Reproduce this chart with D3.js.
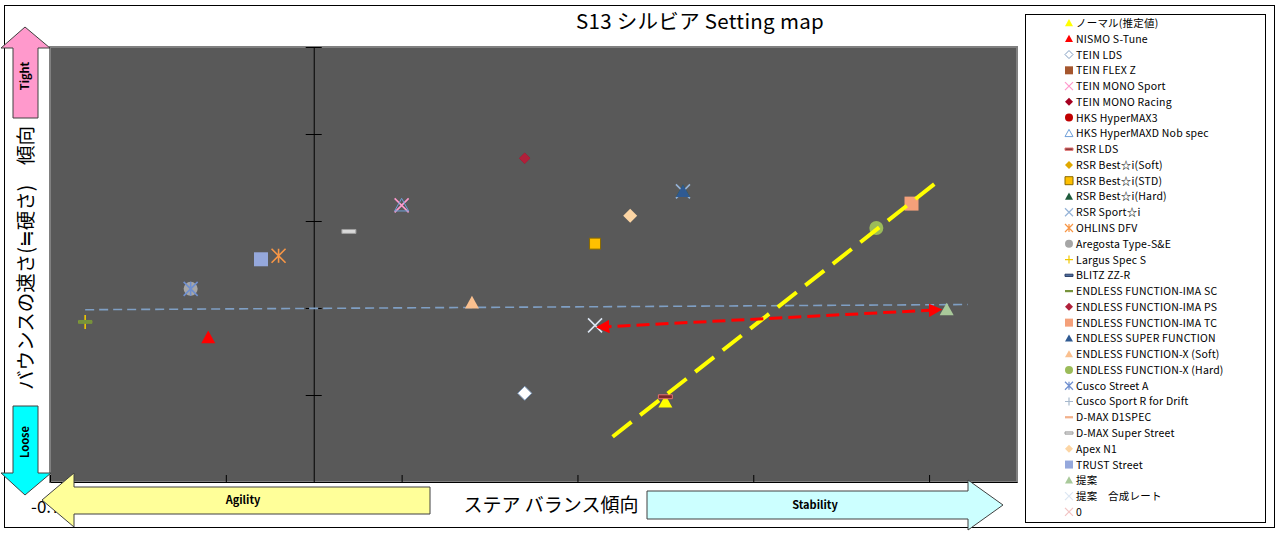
<!DOCTYPE html>
<html>
<head>
<meta charset="utf-8">
<script src="https://cdn.jsdelivr.net/npm/d3@7"></script>
<style>
body { margin: 0; background: #fff; }
text { font-family: "Noto Sans CJK JP", "Noto Sans", sans-serif; }
</style>
</head>
<body>
<script>
// series (one point each, null = not plotted)
var seriesNames = ["ノーマル(推定値)", "NISMO S-Tune", "TEIN LDS", "TEIN FLEX Z", "TEIN  MONO Sport",
  "TEIN  MONO Racing", "HKS  HyperMAX3", "HKS  HyperMAXD Nob spec", "RSR LDS", "RSR  Best☆i(Soft)",
  "RSR  Best☆i(STD)", "RSR  Best☆i(Hard)", "RSR  Sport☆i", "OHLINS DFV", "Aregosta  Type-S&E",
  "Largus Spec S", "BLITZ ZZ-R", "ENDLESS FUNCTION-IMA SC", "ENDLESS FUNCTION-IMA PS",
  "ENDLESS FUNCTION-IMA TC", "ENDLESS SUPER FUNCTION", "ENDLESS FUNCTION-X (Soft)",
  "ENDLESS FUNCTION-X (Hard)", "Cusco Street A", "Cusco Sport R for Drift", "D-MAX D1SPEC",
  "D-MAX Super Street", "Apex N1", "TRUST  Street", "提案", "提案　合成レート", "0"];
var seriesX = [1.00, -0.30, 0.60, null, 0.25, 0.60, null, 0.25, 1.00, null,
  0.80, 1.05, 1.05, -0.10, -0.35, -0.65, null, -0.65, 0.60, 1.70,
  1.05, 0.45, 1.60, -0.35, null, null, 0.10, 0.90, -0.15, 1.80, 0.80, null];
var seriesY = [-0.54, -0.17, -0.49, null, 0.59, 0.86, null, 0.59, -0.51, null,
  0.37, 0.67, 0.67, 0.30, 0.11, -0.08, null, -0.08, 0.86, 0.60,
  0.67, 0.03, 0.46, 0.11, null, null, 0.44, 0.53, 0.28, -0.01, -0.10, null];

// guide lines
var trendX = [0.85, 1.77], trendY = [-0.74, 0.72];
var shiftX = [0.81, 1.78], shiftY = [-0.11, -0.01];
var baseX = [-0.65, 1.86], baseY = [-0.01, 0.02];

var xTicks = [-0.75, -0.25, 0.25, 0.75, 1.25, 1.75];
var xTickLabels = ["-0.75", "-0.25", "0.25", "", "1.25", "1.75"]; // 0.75 sits under the axis title
var yTicks = [-1, -0.5, 0, 0.5, 1, 1.5];

var chartTitle = "S13 シルビア Setting map";
var xTitle = "ステア バランス傾向";
var yTitle = "バウンスの速さ(≒硬さ)　傾向";

// marker style per series: shape, fill, stroke
var styles = [
  ["tri", "#ffff00", null], ["tri", "#ff0000", null], ["dia", "#ffffff", "#7f9cc0"], ["sq", "#a5562e", null],
  ["x", null, "#ff99cc"], ["dia", "#a50021", null], ["circ", "#c00000", null], ["tri", "none", "#6f9fd8"],
  ["dash", "#7a2a2a", "#e07070"], ["dia", "#e0a800", null], ["sq", "#ffc000", "#8a6a00"], ["tri", "#1e5b3c", null],
  ["x", null, "#95b3d7"], ["ast", null, "#f79646"], ["circ", "#a6a6a6", null], ["plus", null, "#f0c800"],
  ["dash", "#4f6fa0", "#2a3f66"], ["dash", "#77933c", null], ["dia", "#b0203a", null], ["sq", "#f4a07a", null],
  ["tri", "#2f5a92", null], ["tri", "#fac08f", null], ["circ", "#9bbb59", null], ["ast", null, "#6f8fcf"],
  ["plus", null, "#a6b8cc"], ["dash", "#f2b08a", null], ["dash", "#d9d9d9", "#a0a0a0"], ["dia", "#fcd5a4", null],
  ["sq", "#95a8dc", null], ["tri", "#a9c99a", null], ["x", null, "#dce6f2"], ["x", null, "#f2c4c4"]
];

function markerPath(shape, s) {
  if (shape == "tri") return "M0," + (-s) + "L" + s + "," + (s * 0.8) + "L" + (-s) + "," + (s * 0.8) + "Z";
  if (shape == "dia") return "M0," + (-s) + "L" + s + ",0L0," + s + "L" + (-s) + ",0Z";
  if (shape == "sq") return "M" + (-s) + "," + (-s) + "h" + (2 * s) + "v" + (2 * s) + "h" + (-2 * s) + "Z";
  if (shape == "circ") return d3.arc()({innerRadius: 0, outerRadius: s, startAngle: 0, endAngle: 2 * Math.PI});
  if (shape == "x") return "M" + (-s) + "," + (-s) + "L" + s + "," + s + "M" + s + "," + (-s) + "L" + (-s) + "," + s;
  if (shape == "ast") return "M" + (-s) + "," + (-s) + "L" + s + "," + s + "M" + s + "," + (-s) + "L" + (-s) + "," + s + "M0," + (-s) + "V" + s;
  if (shape == "plus") return "M" + (-s) + ",0H" + s + "M0," + (-s) + "V" + s;
  if (shape == "dash") return "M" + (-s) + "," + (-s * 0.28) + "h" + (2 * s) + "v" + (s * 0.56) + "h" + (-2 * s) + "Z";
}

function drawMarker(g, i, s) {
  var st = styles[i];
  var p = g.append("path").attr("d", markerPath(st[0], s));
  if (st[0] == "x" || st[0] == "ast" || st[0] == "plus") {
    p.attr("fill", "none").attr("stroke", st[2]).attr("stroke-width", s > 5 ? 1.6 : 1.2);
  } else {
    p.attr("fill", st[1]);
    if (st[2]) p.attr("stroke", st[2]).attr("stroke-width", 1);
  }
}

var W = 1279, H = 533;
var svg = d3.select("body").append("svg").attr("width", W).attr("height", H);

var x = d3.scaleLinear().domain([-0.75, 2.0]).range([50, 1017]);
var y = d3.scaleLinear().domain([-1, 1.5]).range([482, 47]);

// outer frame
svg.append("rect").attr("x", 4.5).attr("y", 5.5).attr("width", 1270).attr("height", 522)
  .attr("fill", "#fff").attr("stroke", "#000");

// plot area
svg.append("rect").attr("x", 50).attr("y", 47).attr("width", 967).attr("height", 435)
  .attr("fill", "#595959").attr("stroke", "#808080").attr("stroke-width", 2);

// title
svg.append("text").attr("x", 700).attr("y", 29).attr("text-anchor", "middle")
  .attr("font-size", 20.5).attr("letter-spacing", 0.3).attr("fill", "#000").text(chartTitle);

// x axis
var xAxis = svg.append("g").attr("transform", "translate(0,482)")
  .call(d3.axisBottom(x).tickValues(xTicks).tickSizeInner(-7).tickSizeOuter(0).tickPadding(19)
    .tickFormat(function(d, i) { return xTickLabels[i]; }));
xAxis.select(".domain").attr("stroke", "#000");
xAxis.selectAll("line").attr("stroke", "#000");
xAxis.selectAll("text").attr("font-size", 17).attr("fill", "#000").attr("font-family", "Noto Sans CJK JP");

// y axis with cross ticks
var yAxis = svg.append("g").attr("transform", "translate(" + x(0) + ",0)")
  .call(d3.axisLeft(y).tickValues(yTicks).tickSize(8).tickSizeOuter(0).tickFormat(""));
yAxis.select(".domain").attr("stroke", "#000");
yAxis.selectAll(".tick line").attr("x1", 8).attr("stroke", "#000");

var line = d3.line().x(function(d) { return x(d[0]); }).y(function(d) { return y(d[1]); });

// light dashed base line
svg.append("path").datum(d3.zip(baseX, baseY)).attr("d", line)
  .attr("fill", "none").attr("stroke", "#7f9fc4").attr("stroke-width", 1.6).attr("stroke-dasharray", "9,5");

// points
seriesNames.forEach(function(n, i) {
  if (seriesX[i] == null) return;
  var g = svg.append("g").attr("transform", "translate(" + x(seriesX[i]) + "," + y(seriesY[i]) + ")");
  var s = 7;
  if (i == 10 || i == 5 || i == 18) s = 5.5;
  drawMarker(g, i, s);
});

// yellow trend line
svg.append("path").datum(d3.zip(trendX, trendY)).attr("d", line)
  .attr("fill", "none").attr("stroke", "#ffff00").attr("stroke-width", 4).attr("stroke-dasharray", "24,11");

// red double arrow
var defs = svg.append("defs");
defs.append("marker").attr("id", "ah").attr("viewBox", "0 0 10 10").attr("refX", 8).attr("refY", 5)
  .attr("markerWidth", 4.5).attr("markerHeight", 4.5).attr("orient", "auto-start-reverse")
  .append("path").attr("d", "M0,0L10,5L0,10Z").attr("fill", "#ff0000");
svg.append("path").datum(d3.zip(shiftX, shiftY)).attr("d", line)
  .attr("fill", "none").attr("stroke", "#ff0000").attr("stroke-width", 3).attr("stroke-dasharray", "13,6")
  .attr("marker-start", "url(#ah)").attr("marker-end", "url(#ah)");

// axis titles
svg.append("rect").attr("x", 458).attr("y", 490).attr("width", 186).attr("height", 30).attr("fill", "#fff");
svg.append("text").attr("x", 551).attr("y", 512).attr("text-anchor", "middle")
  .attr("font-size", 19).attr("fill", "#000").text(xTitle);
svg.append("text").attr("transform", "translate(33,258) rotate(-90)").attr("text-anchor", "middle")
  .attr("font-size", 19.5).attr("fill", "#000").text(yTitle);

// direction arrows
function arrow(pts, fill, label, lx, ly, rot) {
  svg.append("polygon").attr("points", pts.map(function(p) { return p.join(","); }).join(" "))
    .attr("fill", fill).attr("stroke", "#404040").attr("stroke-width", 1);
  svg.append("text").attr("transform", "translate(" + lx + "," + ly + ") rotate(" + rot + ")")
    .attr("text-anchor", "middle").attr("dy", "0.35em")
    .attr("font-family", "Liberation Sans, Arial, sans-serif").attr("font-weight", "bold")
    .attr("font-size", 11).attr("fill", "#000").text(label);
}
arrow([[25, 27], [50, 48], [38, 48], [38, 118], [13, 118], [13, 48], [1, 48]], "#ff99cc", "Tight", 25, 76, -90);
arrow([[13, 406], [38, 406], [38, 473], [51, 473], [25, 495], [1, 473], [13, 473]], "#00ffff", "Loose", 25, 442, -90);
arrow([[42, 500], [74, 473], [74, 487], [430, 487], [430, 514], [74, 514], [74, 527]], "#ffff99", "Agility", 243, 500, 0);
arrow([[647, 491], [968, 491], [968, 480], [1003, 505], [968, 530], [968, 519], [647, 519]], "#ccffff", "Stability", 815, 505, 0);

// legend
svg.append("rect").attr("x", 1025.5).attr("y", 14.5).attr("width", 240).attr("height", 508)
  .attr("fill", "#fff").attr("stroke", "#000");
seriesNames.forEach(function(n, i) {
  var g = svg.append("g").attr("transform", "translate(1069," + (23 + i * 15.77) + ")");
  drawMarker(g, i, 4);
  g.append("text").attr("x", 7).attr("y", 4).attr("font-size", 10.5).attr("letter-spacing", 0.2)
    .attr("fill", "#000").text(n);
});
</script>
</body>
</html>
